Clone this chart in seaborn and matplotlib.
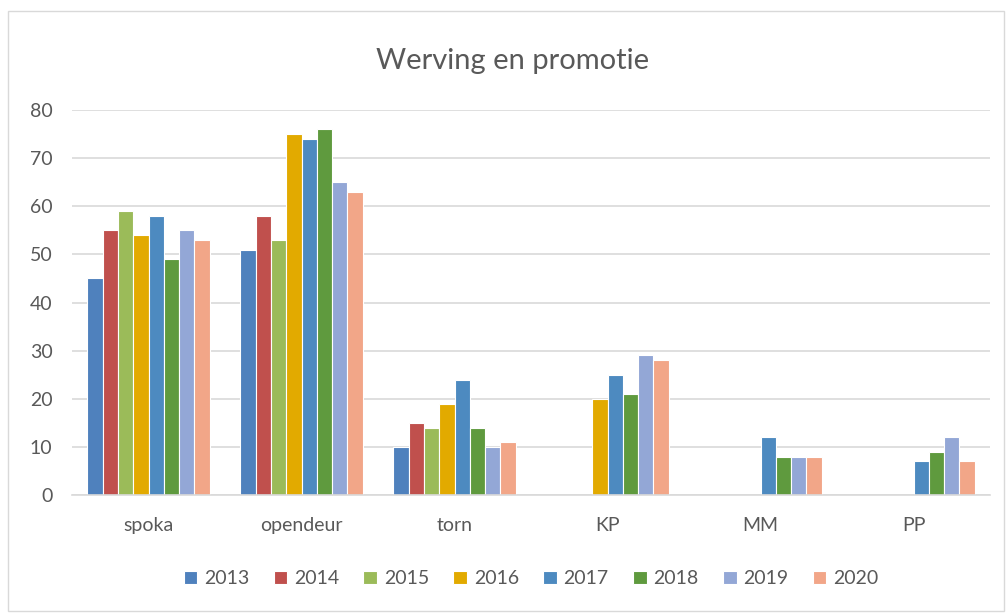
import numpy as np
import pandas as pd
import matplotlib
matplotlib.use('Agg')
import matplotlib.pyplot as plt
import seaborn as sns
from matplotlib.patches import Rectangle

categories = ['spoka', 'opendeur', 'torn', 'KP', 'MM', 'PP']
years = ['2013', '2014', '2015', '2016', '2017', '2018', '2019', '2020']
nan = np.nan
values = {
    '2013': [45, 51, 10, nan, nan, nan],
    '2014': [55, 58, 15, nan, nan, nan],
    '2015': [59, 53, 14, nan, nan, nan],
    '2016': [54, 75, 19, 20, nan, nan],
    '2017': [58, 74, 24, 25, 12, 7],
    '2018': [49, 76, 14, 21, 8, 9],
    '2019': [55, 65, 10, 29, 8, 12],
    '2020': [53, 63, 11, 28, 8, 7],
}
colors = ['#4F81BD', '#C0504D', '#9BBB59', '#E2AA00',
          '#4D8AC0', '#5F9A3E', '#93A7D6', '#F2A688']

rows = []
for y in years:
    for c, v in zip(categories, values[y]):
        rows.append({'cat': c, 'year': y, 'val': v})
df = pd.DataFrame(rows)

sns.set_theme(style='white')
plt.rcParams['font.family'] = ['Lato', 'DejaVu Sans']

fig = plt.figure(figsize=(10.06, 6.13), dpi=100)
ax = fig.add_axes([0.0716, 0.1925, 0.9125, 0.628])

sns.barplot(data=df, x='cat', y='val', hue='year', hue_order=years,
            palette=colors, saturation=1, width=0.8, edgecolor='white', linewidth=0.8,
            errorbar=None, ax=ax)

ax.set_xlim(-0.5, 5.5)
ax.set_ylim(0, 80)
ax.set_yticks(range(0, 81, 10))
ax.yaxis.grid(True, color='#D9D9D9', linewidth=1.2)
ax.set_axisbelow(True)
for s in ['top', 'right', 'left']:
    ax.spines[s].set_visible(False)
ax.spines['bottom'].set_color('#D9D9D9')
ax.spines['bottom'].set_linewidth(1.2)
ax.set_xlabel('')
ax.set_ylabel('')
ax.tick_params(axis='both', colors='#595959', labelsize=14, length=0)
ax.tick_params(axis='x', pad=16)
ax.tick_params(axis='y', pad=14)

fig.suptitle('Werving en promotie', x=0.51, y=0.922, fontsize=21, color='#595959')

ax.legend(loc='upper center', bbox_to_anchor=(0.5, -0.15), ncol=8, frameon=False,
          fontsize=14, handlelength=0.7, handleheight=0.7, handletextpad=0.35,
          columnspacing=1.25, labelcolor='#595959')

fig.patches.append(Rectangle((0.008, 0.003), 0.99, 0.979, transform=fig.transFigure,
                             fill=False, edgecolor='#D9D9D9', linewidth=1))

fig.savefig('out.png', dpi=100)
